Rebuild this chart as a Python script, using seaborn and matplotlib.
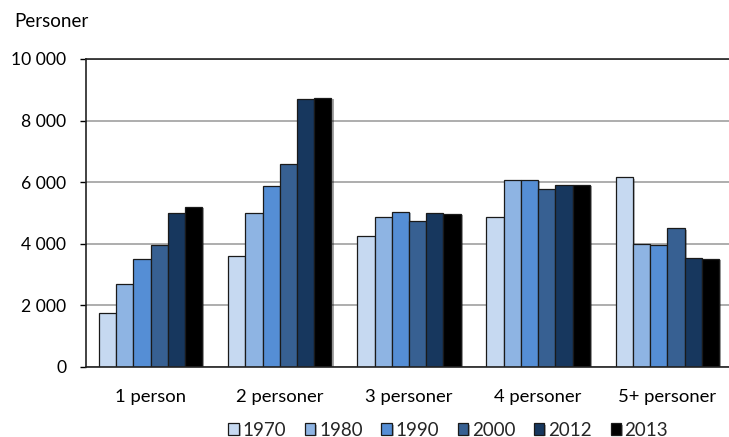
import matplotlib
matplotlib.use("Agg")
import matplotlib.pyplot as plt
import matplotlib.patheffects as pe
import seaborn as sns
import pandas as pd

categories = ["1 person", "2 personer", "3 personer", "4 personer", "5+ personer"]
years = ["1970", "1980", "1990", "2000", "2012", "2013"]
v1970 = [1740, 3590, 4250, 4850, 6160]
v1980 = [2690, 5000, 4850, 6070, 3990]
v1990 = [3500, 5880, 5030, 6080, 3960]
v2000 = [3950, 6600, 4730, 5780, 4500]
v2012 = [5010, 8700, 4990, 5890, 3530]
v2013 = [5190, 8730, 4970, 5910, 3510]
series = [v1970, v1980, v1990, v2000, v2012, v2013]
colors = ["#C6D9F1", "#8EB4E3", "#558ED5", "#376092", "#17375E", "#000000"]

rows = []
for y, vals in zip(years, series):
    for c, v in zip(categories, vals):
        rows.append({"Hushåll": c, "År": y, "Personer": v})
df = pd.DataFrame(rows)

sns.set_theme(style="white")
plt.rcParams["font.family"] = ["Lato", "DejaVu Sans"]

fig = plt.figure(figsize=(7.29, 4.37), dpi=100)
ax = fig.add_axes([0.118, 0.161, 0.886, 0.704])

sns.barplot(data=df, x="Hushåll", y="Personer", hue="År", order=categories,
            hue_order=years, palette=colors, saturation=1, width=0.8, gap=0,
            edgecolor="#1a1a1a", linewidth=0.9, ax=ax, legend=True)

for p in ax.patches:
    p.set_path_effects([pe.SimplePatchShadow(offset=(1.5, -1.0), alpha=0.35), pe.Normal()])

ax.set_ylim(0, 10000)
ax.set_yticks(range(0, 10001, 2000))
ax.set_yticklabels(["0", "2 000", "4 000", "6 000", "8 000", "10 000"])
ax.yaxis.grid(True, color="#a0a0a0", linewidth=1.2)
ax.set_axisbelow(True)
ax.set_xlabel("")
ax.set_ylabel("")
ax.tick_params(axis="y", which="both", left=True, length=4.3, width=1, color="black",
               labelsize=12.6, labelcolor="black", pad=10)
ax.tick_params(axis="x", bottom=False, labelsize=13.3, labelcolor="black", pad=10)
for s in ["left", "bottom", "top"]:
    ax.spines[s].set_visible(True)
    ax.spines[s].set_color("#222222")
    ax.spines[s].set_linewidth(1.2)
ax.spines["right"].set_visible(False)

fig.text(0.019, 0.95, "Personer", fontsize=13.5, color="black", ha="left", va="center")

handles, labels = ax.get_legend_handles_labels()
ax.get_legend().remove()
fig.legend(handles, labels, loc="center", bbox_to_anchor=(0.615, 0.016),
           ncol=6, frameon=False, fontsize=13.5, handlelength=0.55, handleheight=0.55,
           handletextpad=0.2, columnspacing=1.0, borderaxespad=0, borderpad=0)

fig.savefig("out.png", dpi=100)
